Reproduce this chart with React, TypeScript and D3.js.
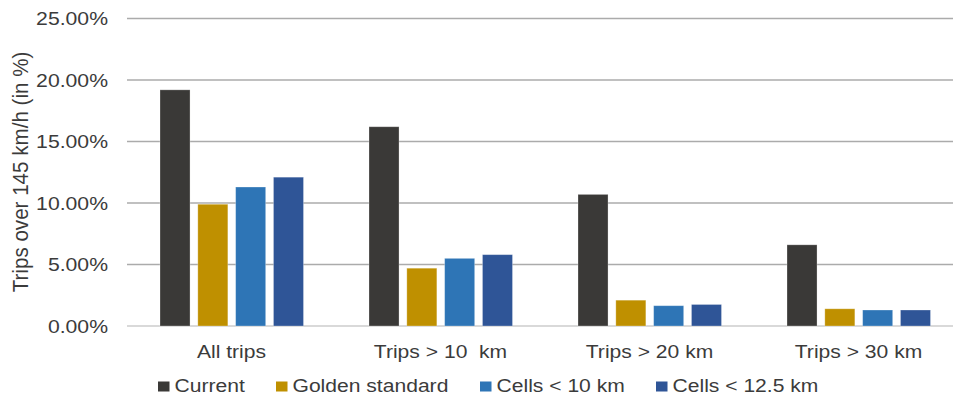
import React from "react";
import * as d3 from "d3";

const categories = ["All trips", "Trips > 10  km", "Trips > 20 km", "Trips > 30 km"];
const seriesNames = ["Current", "Golden standard", "Cells < 10 km", "Cells < 12.5 km"];
const current = [19.2, 16.2, 10.7, 6.6];
const goldenStandard = [9.9, 4.7, 2.1, 1.4];
const cells10 = [11.3, 5.5, 1.65, 1.3];
const cells125 = [12.1, 5.8, 1.75, 1.3];
const seriesValues = [current, goldenStandard, cells10, cells125];
const seriesColors = ["#3a3937", "#bf9000", "#2e75b6", "#2f5597"];
const yTicks = [0, 5, 10, 15, 20, 25];

const W = 953;
const H = 397;
const plotLeft = 127;
const bandWidth = 209;
const FONT = "'Liberation Sans', Arial, sans-serif";
const TEXT = "#3b3b3b";
const SX = 1.14;

export default function App() {
  const x = d3
    .scaleBand<string>()
    .domain(categories)
    .range([plotLeft, plotLeft + bandWidth * categories.length])
    .paddingInner(0)
    .paddingOuter(0);
  const xs = d3
    .scaleBand<string>()
    .domain(seriesNames)
    .range([33, 176.5])
    .paddingInner(0.206)
    .paddingOuter(0);
  const y = d3.scaleLinear().domain([0, 25]).range([326, 18.5]);

  const legendX = [158, 276, 480, 656];

  return (
    <svg
      width={W}
      height={H}
      style={{ position: "absolute", left: 0, top: 0, background: "#fff" }}
      fontFamily={FONT}
    >
      {/* gridlines */}
      {yTicks.map((t) => (
        <line
          key={"g" + t}
          x1={plotLeft}
          x2={W}
          y1={y(t)}
          y2={y(t)}
          stroke={t === 0 ? "#d9d9d9" : "#ababab"}
          strokeWidth={t === 0 ? 2 : 1.3}
        />
      ))}
      {/* y tick labels */}
      {yTicks.map((t) => (
        <g key={"t" + t} transform={`translate(108,${y(t) + 6.6}) scale(${SX},1)`}>
          <text textAnchor="end" fontSize={18.6} fill={TEXT}>
            {t.toFixed(2) + "%"}
          </text>
        </g>
      ))}
      {/* y axis title */}
      <g transform={`translate(28,172) scale(1.1,1) rotate(-90)`}>
        <text textAnchor="middle" fontSize={20.6} fill={TEXT}>
          Trips over 145 km/h (in %)
        </text>
      </g>
      {/* bars */}
      {categories.map((c, ci) => (
        <g key={c} transform={`translate(${x(c)},0)`}>
          {seriesNames.map((s, si) => {
            const v = seriesValues[si][ci];
            return (
              <rect
                key={s}
                x={xs(s)}
                y={y(v)}
                width={xs.bandwidth()}
                height={y(0) - y(v)}
                fill={seriesColors[si]}
                stroke="#ffffff"
                strokeOpacity={0.35}
                strokeWidth={0.8}
              />
            );
          })}
        </g>
      ))}
      {/* category labels */}
      {categories.map((c) => (
        <g key={"c" + c} transform={`translate(${(x(c) as number) + bandWidth / 2},358) scale(${SX},1)`}>
          <text textAnchor="middle" fontSize={18.5} fill={TEXT} style={{ whiteSpace: "pre" }}>
            {c}
          </text>
        </g>
      ))}
      {/* legend */}
      {seriesNames.map((s, si) => (
        <g key={"l" + s}>
          <rect x={legendX[si]} y={381.5} width={11.5} height={10} fill={seriesColors[si]} />
          <g transform={`translate(${legendX[si] + 16.5},391.5) scale(${SX},1)`}>
            <text fontSize={18.5} fill={TEXT}>
              {s}
            </text>
          </g>
        </g>
      ))}
    </svg>
  );
}
